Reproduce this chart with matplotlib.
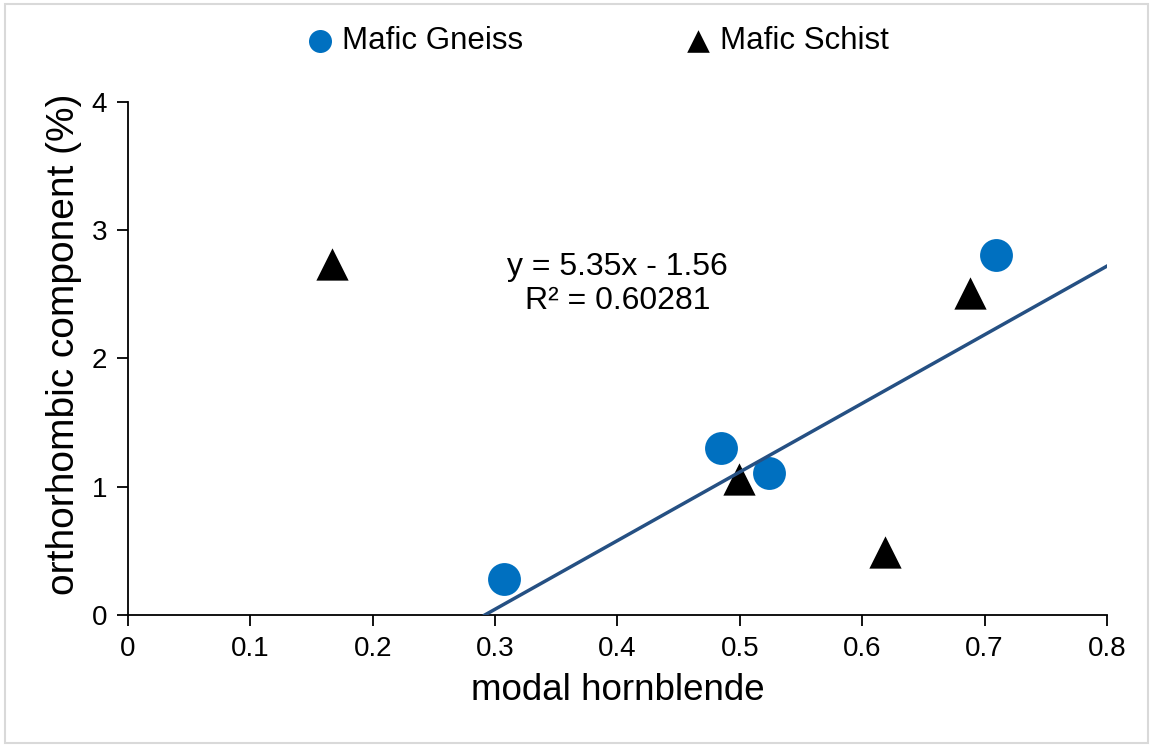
import numpy as np
import matplotlib.pyplot as plt
from matplotlib.patches import Rectangle

plt.rcParams['font.family'] = ['Liberation Sans', 'DejaVu Sans']

# modal hornblende vs orthorhombic component
gneiss_x = [0.307, 0.485, 0.524, 0.709]
gneiss_y = [0.28, 1.30, 1.11, 2.81]
schist_x = [0.167, 0.499, 0.619, 0.688]
schist_y = [2.74, 1.06, 0.49, 2.51]

slope, intercept, r2 = 5.35, -1.56, 0.60281
x_ticks = [0, 0.1, 0.2, 0.3, 0.4, 0.5, 0.6, 0.7, 0.8]
y_ticks = [0, 1, 2, 3, 4]

fig = plt.figure(figsize=(11.53, 7.47), dpi=100)
ax = fig.add_axes([0.111, 0.1767, 0.849, 0.6868])

fig.patches.append(Rectangle((0.004, 0.005), 0.992, 0.99, transform=fig.transFigure,
                             fill=False, edgecolor='#d9d9d9', linewidth=1.5))

ax.scatter(gneiss_x, gneiss_y, s=560, marker='o', color='#0070c0', label='Mafic Gneiss', zorder=3, linewidths=0)
ax.scatter(schist_x, schist_y, s=540, marker='^', color='black', label='Mafic Schist', zorder=3, linewidths=0)

# linear trendline, clipped where it crosses zero
line_x = np.array([-intercept / slope, 0.8])
ax.plot(line_x, slope * line_x + intercept, color='#255083', linewidth=2.5, zorder=4)

ax.text(0.4, 2.58, 'y = 5.35x - 1.56\nR² = %.5f' % r2, ha='center', va='center',
        fontsize=23, linespacing=1.2)

ax.set_xlim(0, 0.8)
ax.set_ylim(0, 4)
ax.set_xticks(x_ticks)
ax.set_xticklabels(['0' if t == 0 else '%g' % t for t in x_ticks])
ax.set_yticks(y_ticks)
ax.tick_params(axis='both', labelsize=20, direction='out', length=8, width=1.3, pad=7)
for side in ['top', 'right']:
    ax.spines[side].set_visible(False)
for side in ['left', 'bottom']:
    ax.spines[side].set_linewidth(1.3)

ax.set_xlabel('modal hornblende', fontsize=26.5, labelpad=8)
ax.set_ylabel('orthorhombic component (%)', fontsize=28)
ax.yaxis.set_label_coords(-0.047, 0.528)

fig.legend(loc='upper center', bbox_to_anchor=(0.511, 1.003), ncol=2, frameon=False,
           fontsize=22.5, handletextpad=-0.3, columnspacing=4.6, markerscale=0.7)

fig.savefig('out.png')
